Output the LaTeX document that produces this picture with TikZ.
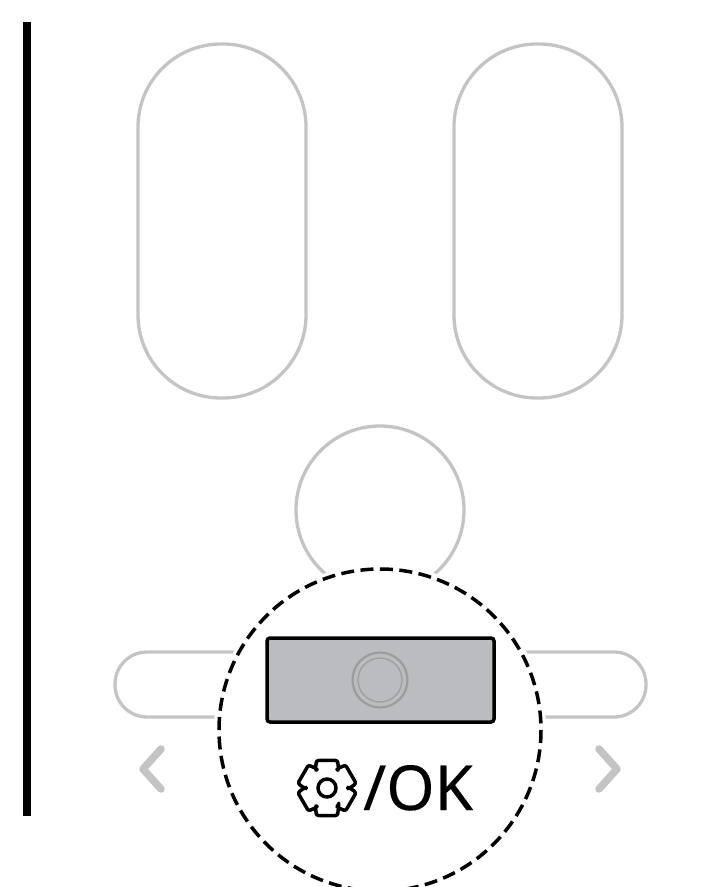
\documentclass[tikz,border=0pt]{standalone}
\usepackage{fontspec}
\setmainfont[FakeBold=0.25]{Noto Sans}
\tikzset{
  outline/.style={draw=ghost,line width=3.3pt},
  chev/.style={draw=ghost,line width=7.5pt,line cap=round,line join=round},
}
\definecolor{ghost}{HTML}{C4C4C6}
\definecolor{panel}{HTML}{BBBCBF}
\definecolor{ringc}{HTML}{9C9C9E}
\begin{document}
\begin{tikzpicture}[x=1pt,y=-1pt]
\useasboundingbox (0,0) rectangle (715,887);
\clip (0,0) rectangle (715,887);
\fill[black] (23,22) rectangle (31,816);
\draw[outline,rounded corners=83pt] (138,44) rectangle (306,398);
\draw[outline,rounded corners=83pt] (454,44) rectangle (622,398);
\draw[outline] (380,510) circle[radius=84];
\draw[outline,rounded corners=32pt] (115,652) rectangle (646,717);
\fill[white] (380,730) circle[radius=166];
\draw[black,line width=3.5pt,dash pattern=on 13pt off 6.454pt] (380,730) circle[radius=161];
\draw[black,fill=panel,line width=3.5pt,rounded corners=3pt] (267,638) rectangle (494,722);
\draw[ringc,line width=2.2pt] (380,680) circle[radius=27.5];
\draw[ringc,line width=1.2pt] (380,680) circle[radius=22];
\draw[chev] (161,749) -- (143,769) -- (161,789);
\draw[chev] (599,749) -- (617,769) -- (599,789);
\begin{scope}[shift={(327,788)}]
\draw[black,line width=3.5pt,line join=round,rounded corners=2.2pt]
  (56:21)
  \foreach \a in {90,150,210,270,330,390} {
    -- (\a-34:21) -- (\a-21:29.5) -- (\a+21:29.5) -- (\a+34:21)
  } -- cycle;
\draw[black,line width=3.5pt] (0,0) circle[radius=9];
\end{scope}
\node[anchor=base west,inner sep=0pt,font=\fontsize{62pt}{62pt}\selectfont] (lbl) at (363,810) {/OK};
\end{tikzpicture}
\end{document}
